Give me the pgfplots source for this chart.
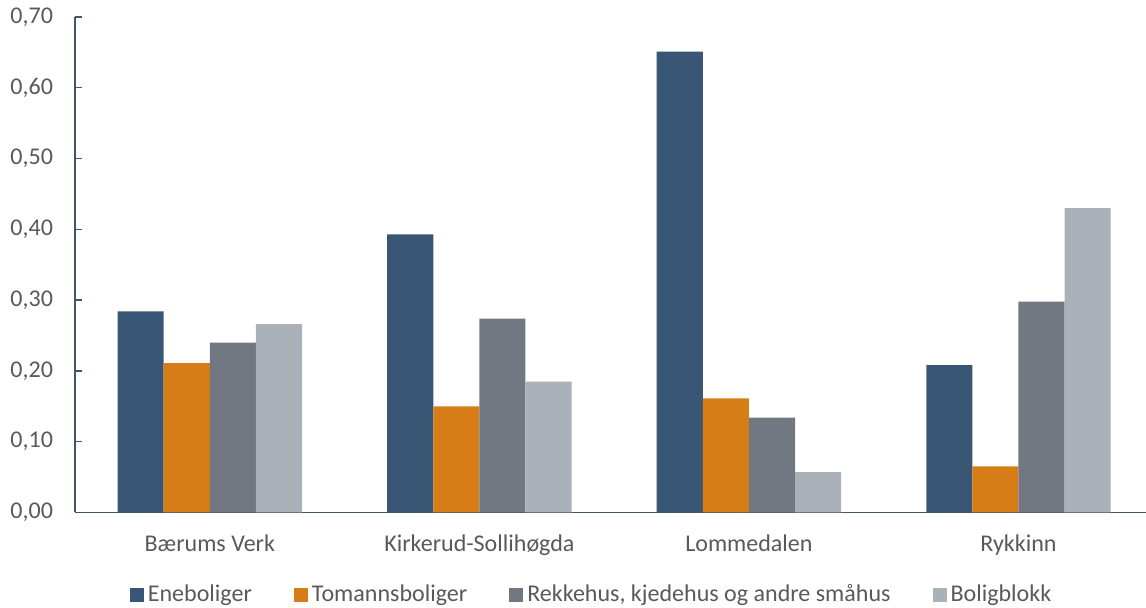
\documentclass[border=0pt]{standalone}
\usepackage{pgfplots}
\pgfplotsset{compat=1.18}
\usepackage{fontspec}
\setmainfont{Carlito}
\definecolor{cEne}{HTML}{3A5675}
\definecolor{cTo}{HTML}{D67D18}
\definecolor{cRek}{HTML}{717881}
\definecolor{cBol}{HTML}{ABB1B8}
\definecolor{axiscol}{HTML}{44546A}
\definecolor{txt}{HTML}{595959}
\begin{document}
\begin{tikzpicture}
\begin{axis}[
  scale only axis, width=538.6pt, height=247.5pt,
  xmin=-0.5, xmax=3.5, ymin=0, ymax=0.7,
  xtick={0,1,2,3},
  xticklabels={Bærums Verk, Kirkerud-Sollihøgda, Lommedalen, Rykkinn},
  ytick={0,0.1,0.2,0.3,0.4,0.5,0.6,0.7},
  axis x line*=bottom, axis y line*=left,
  axis line style={color=axiscol, line width=0.7pt},
  x tick style={draw=none},
  y tick style={color=axiscol, line width=0.7pt},
  major tick length=3.5pt, tick align=inside,
  tick label style={font=\fontsize{12}{14}\selectfont, color=txt},
  yticklabel style={xshift=-7.5pt},
  xticklabel style={yshift=-4pt},
  yticklabel={\pgfmathprintnumber[fixed, fixed zerofill, precision=2, use comma, assume math mode=true]{\tick}},
  ybar, bar width=0.171,
  legend columns=4,
  legend style={at={(0.480,0)}, anchor=center, yshift=-41pt, draw=none, fill=none,
    font=\fontsize{12}{14}\selectfont, text=txt,
    /tikz/every even column/.append style={column sep=19pt}},
  legend image code/.code={\fill[#1] (0pt,-3.5pt) rectangle (7pt,3.5pt);},
  clip=false,
]
\addplot[fill=cEne, draw=none, bar shift=-0.2565] coordinates {(0,0.284) (1,0.393) (2,0.651) (3,0.208)};
\addplot[fill=cTo, draw=none, bar shift=-0.0855] coordinates {(0,0.211) (1,0.150) (2,0.161) (3,0.065)};
\addplot[fill=cRek, draw=none, bar shift=0.0855] coordinates {(0,0.240) (1,0.274) (2,0.134) (3,0.298)};
\addplot[fill=cBol, draw=none, bar shift=0.2565] coordinates {(0,0.266) (1,0.185) (2,0.057) (3,0.430)};
\legend{Eneboliger, Tomannsboliger, {Rekkehus, kjedehus og andre småhus}, Boligblokk}
\coordinate (bl) at (rel axis cs:0,0);
\coordinate (tr) at (rel axis cs:1,1);
\end{axis}
\pgfresetboundingbox
\path ([shift={(-37.5pt,-47.5pt)}]bl) rectangle ([shift={(-3.6pt,8.5pt)}]tr);
\end{tikzpicture}
\end{document}
